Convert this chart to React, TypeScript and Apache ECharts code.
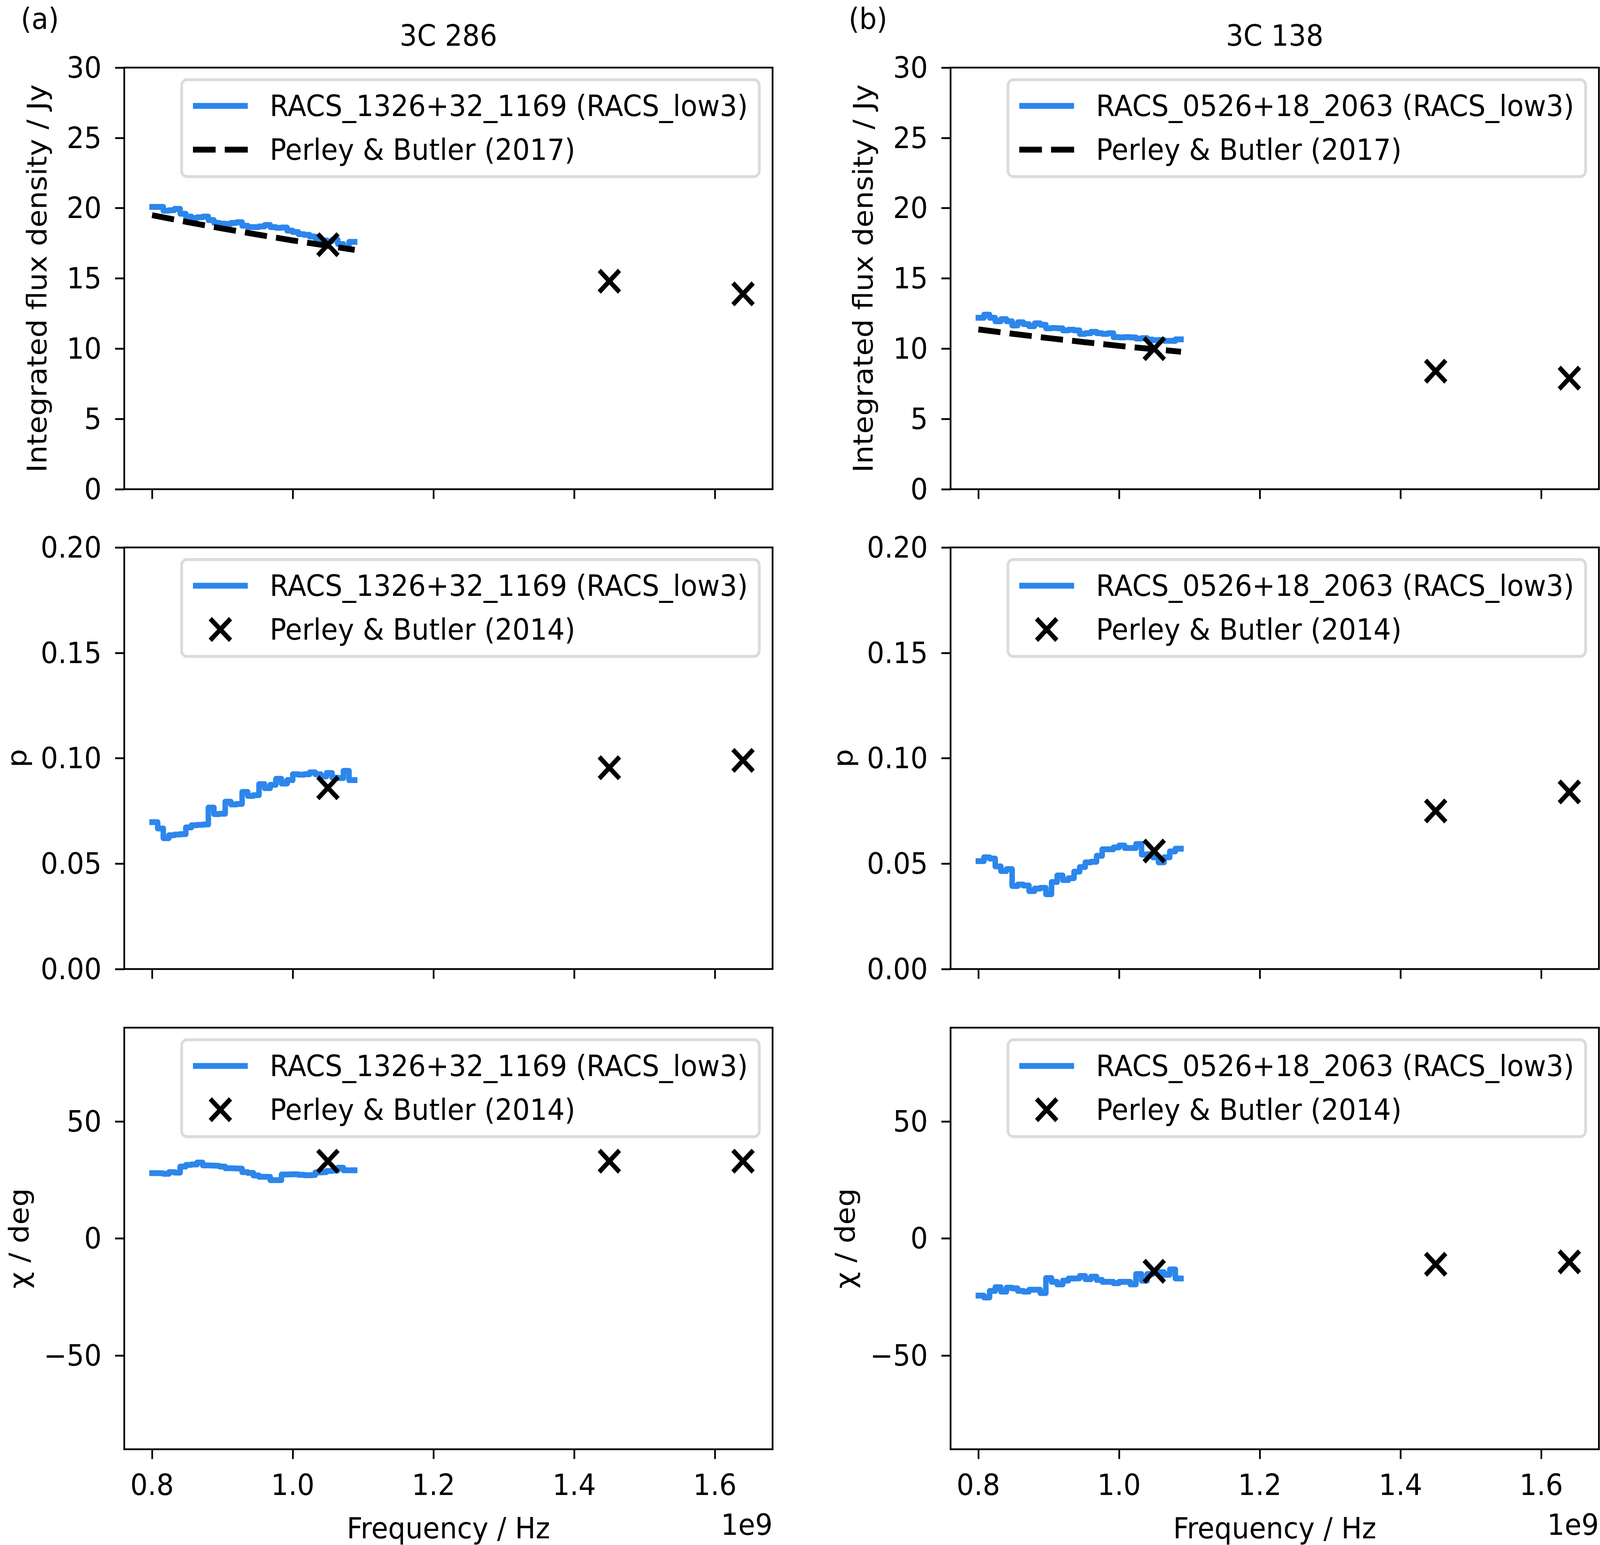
import React, { useEffect, useRef } from "react";
import * as echarts from "echarts";

// ---------------- data ----------------
// channel edges (GHz, i.e. x 1e9 Hz); values hold from edge i to edge i+1
const FREQ_GHZ = [
  0.8, 0.808, 0.816, 0.824, 0.832, 0.84, 0.848, 0.856, 0.864, 0.872, 0.88, 0.888,
  0.896, 0.904, 0.912, 0.92, 0.928, 0.936, 0.944, 0.952, 0.96, 0.968, 0.976, 0.984,
  0.992, 1.0, 1.008, 1.016, 1.024, 1.032, 1.04, 1.048, 1.056, 1.064, 1.072, 1.08, 1.088,
];

const I_3C286 = [
  20.09, 20.09, 19.82, 19.85, 19.95, 19.6, 19.4, 19.3, 19.35, 19.4, 19.15, 18.95,
  18.9, 18.88, 18.95, 19.0, 18.75, 18.65, 18.65, 18.7, 18.8, 18.65, 18.6, 18.62,
  18.4, 18.3, 18.15, 18.1, 17.98, 17.85, 17.7, 17.65, 17.75, 17.45, 17.2, 17.6,
];
const I_3C138 = [
  12.2, 12.42, 12.2, 11.95, 12.1, 11.95, 11.65, 11.88, 11.75, 11.6, 11.8, 11.7,
  11.45, 11.47, 11.45, 11.3, 11.35, 11.3, 11.05, 11.1, 11.2, 11.1, 11.05, 11.1,
  10.82, 10.8, 10.82, 10.8, 10.72, 10.75, 10.65, 10.6, 10.62, 10.56, 10.55, 10.66,
];
const P_3C286 = [
  0.0697, 0.0667, 0.0621, 0.0635, 0.0638, 0.064, 0.0672, 0.0682, 0.0684, 0.0686, 0.0766, 0.0735,
  0.0737, 0.0794, 0.0781, 0.0783, 0.084, 0.0821, 0.0825, 0.0877, 0.0858, 0.0874, 0.0902, 0.088,
  0.0896, 0.0924, 0.0922, 0.0924, 0.0933, 0.0924, 0.0914, 0.093, 0.0908, 0.0906, 0.094, 0.0896,
];
const P_3C138 = [
  0.0512, 0.053, 0.0524, 0.0487, 0.0465, 0.0474, 0.0394, 0.0401, 0.0396, 0.037, 0.0382, 0.0385,
  0.0355, 0.0413, 0.0444, 0.0422, 0.0431, 0.0462, 0.0484, 0.0506, 0.0509, 0.0537, 0.0568, 0.0568,
  0.0577, 0.0586, 0.0574, 0.0574, 0.0593, 0.0543, 0.0545, 0.053, 0.0506, 0.053, 0.0558, 0.0571,
];
const CHI_3C286 = [
  27.9, 27.8, 27.6, 28.3, 28.1, 30.7, 31.4, 31.6, 32.4, 31.2, 31.1, 31.0,
  30.7, 30.0, 29.9, 29.8, 28.3, 28.0, 26.9, 26.3, 26.3, 24.9, 24.9, 27.3,
  27.4, 27.4, 27.2, 27.0, 27.1, 28.2, 28.3, 28.8, 29.0, 30.2, 29.1, 29.1,
];
const CHI_3C138 = [
  -24.4, -25.2, -22.4, -20.8, -22.7, -21.0, -21.3, -22.4, -22.7, -21.9, -21.9, -23.3,
  -16.9, -18.5, -19.6, -18.0, -17.1, -17.0, -16.0, -17.4, -16.3, -17.7, -18.5, -18.5,
  -19.1, -18.5, -18.5, -19.6, -15.2, -18.0, -15.2, -14.4, -14.4, -15.5, -13.2, -17.1,
];

// Perley & Butler (2017) model curve
const PB17_FREQ = [0.8, 0.85, 0.9, 0.95, 1.0, 1.05, 1.088];
const PB17_3C286 = [19.5, 19.01, 18.55, 18.12, 17.7, 17.32, 17.03];
const PB17_3C138 = [11.37, 11.05, 10.75, 10.47, 10.2, 9.96, 9.78];

// Perley & Butler (2014) points
const PB_FREQ = [1.05, 1.45, 1.64];
const PB_I_3C286 = [17.4, 14.8, 13.9];
const PB_I_3C138 = [10.0, 8.4, 7.9];
const PB_P_3C286 = [0.086, 0.0955, 0.099];
const PB_P_3C138 = [0.056, 0.075, 0.084];
const PB_CHI_3C286 = [33, 33, 33];
const PB_CHI_3C138 = [-14, -11, -10];

const X_TICKS = [0.8, 1.0, 1.2, 1.4, 1.6];
const Y_TICKS_I = [0, 5, 10, 15, 20, 25, 30];
const Y_TICKS_P = [0, 0.05, 0.1, 0.15, 0.2];
const Y_TICKS_CHI = [-50, 0, 50];

const NAME_286 = "RACS_1326+32_1169 (RACS_low3)";
const NAME_138 = "RACS_0526+18_2063 (RACS_low3)";
const NAME_PB17 = "Perley & Butler (2017)";
const NAME_PB14 = "Perley & Butler (2014)";

// ---------------- style ----------------
const W = 4378;
const H = 3954;
const FONT = '"DejaVu Sans", "Liberation Sans", sans-serif';
const FS = 75;
const BLUE = "#2c86eb";
const LW = 4.7;
const X_MIN = 0.7605;
const X_MAX = 1.682;
const COL_LEFT = [340, 2601];
const ROW_TOP = [173, 1401, 2630];
const GW = 1774;
const GH = 1079;
const COL_SHIFT = 2261;

const X_PATH =
  "path://M0,13.5L13.5,0L50,36.5L86.5,0L100,13.5L63.5,50L100,86.5L86.5,100L50,63.5L13.5,100L0,86.5L36.5,50Z";
const LINE_ICON = "path://M0,0L150,0L150,15L0,15Z";
const DASH_ICON = "path://M0,0L62,0L62,15L0,15Z M87,0L150,0L150,15L87,15Z";

function stepData(vals: number[]) {
  const out: number[][] = vals.map((v, i) => [FREQ_GHZ[i], v]);
  out.push([FREQ_GHZ[FREQ_GHZ.length - 1], vals[vals.length - 1]]);
  return out;
}
function pairs(xs: number[], ys: number[]) {
  return xs.map((x, i) => [x, ys[i]]);
}
const fmtMinus = (v: number) => (v < 0 ? "\u2212" + Math.abs(v) : String(v));

function buildOption() {
  const grid: any[] = [];
  const xAxis: any[] = [];
  const yAxis: any[] = [];
  const series: any[] = [];
  const legend: any[] = [];

  const rows = [
    { ticks: Y_TICKS_I, min: 0, max: 30, fmt: (v: number) => String(v) },
    { ticks: Y_TICKS_P, min: 0, max: 0.2, fmt: (v: number) => v.toFixed(2) },
    { ticks: Y_TICKS_CHI, min: -90, max: 90, fmt: fmtMinus },
  ];
  const racs = [
    [I_3C286, I_3C138],
    [P_3C286, P_3C138],
    [CHI_3C286, CHI_3C138],
  ];
  const pb = [
    [PB_I_3C286, PB_I_3C138],
    [PB_P_3C286, PB_P_3C138],
    [PB_CHI_3C286, PB_CHI_3C138],
  ];
  const names = [NAME_286, NAME_138];

  for (let r = 0; r < 3; r++) {
    for (let c = 0; c < 2; c++) {
      const p = r * 2 + c;
      grid.push({
        left: COL_LEFT[c],
        top: ROW_TOP[r],
        width: GW,
        height: GH,
        show: true,
        borderColor: "#000",
        borderWidth: LW,
        backgroundColor: "transparent",
        containLabel: false,
      });
      xAxis.push({
        gridIndex: p,
        type: "value",
        min: X_MIN,
        max: X_MAX,
        axisLine: { show: false, onZero: false },
        axisTick: {
          show: true,
          inside: false,
          length: 25,
          lineStyle: { color: "#000", width: LW },
          customValues: X_TICKS,
        },
        axisLabel: {
          show: r === 2,
          customValues: X_TICKS,
          formatter: (v: number) => v.toFixed(1),
          fontSize: FS,
          fontFamily: FONT,
          color: "#000",
          margin: 54,
        },
        splitLine: { show: false },
      });
      yAxis.push({
        gridIndex: p,
        type: "value",
        min: rows[r].min,
        max: rows[r].max,
        axisLine: { show: false, onZero: false },
        axisTick: {
          show: true,
          inside: false,
          length: 25,
          lineStyle: { color: "#000", width: LW },
          customValues: rows[r].ticks,
        },
        axisLabel: {
          show: true,
          customValues: rows[r].ticks,
          formatter: rows[r].fmt,
          fontSize: FS,
          fontFamily: FONT,
          color: "#000",
          margin: 62,
        },
        splitLine: { show: false },
      });

      series.push({
        type: "line",
        name: names[c],
        xAxisIndex: p,
        yAxisIndex: p,
        data: stepData(racs[r][c]),
        step: "end",
        symbol: "none",
        silent: true,
        lineStyle: { color: BLUE, width: 15, join: "round", cap: "square", opacity: 1 },
        itemStyle: { color: BLUE, opacity: 1 },
        z: 2,
      });
      if (r === 0) {
        series.push({
          type: "line",
          name: NAME_PB17,
          xAxisIndex: p,
          yAxisIndex: p,
          data: pairs(PB17_FREQ, c === 0 ? PB17_3C286 : PB17_3C138),
          symbol: "none",
          silent: true,
          lineStyle: { color: "#000", width: 15, type: [61, 25], cap: "butt", opacity: 1 },
          itemStyle: { color: "#000", opacity: 1 },
          z: 3,
        });
      }
      series.push({
        type: "scatter",
        name: NAME_PB14,
        xAxisIndex: p,
        yAxisIndex: p,
        data: pairs(PB_FREQ, pb[r][c]),
        symbol: X_PATH,
        symbolSize: 64,
        silent: true,
        itemStyle: { color: "#000", borderWidth: 0, opacity: 1 },
        z: 4,
      });

      legend.push({
        show: true,
        orient: "vertical",
        align: "left",
        left: 497 + c * COL_SHIFT,
        top: ROW_TOP[r] + 31,
        padding: [22, 31, 24, 31],
        itemWidth: 150,
        itemHeight: 64,
        itemGap: 22,
        selectedMode: false,
        backgroundColor: "#ffffff",
        borderColor: "#d8dcdc",
        borderWidth: 7.5,
        borderRadius: 15,
        itemStyle: { borderWidth: 0, opacity: 1 },
        textStyle: {
          fontSize: FS,
          fontFamily: FONT,
          color: "#000",
          lineHeight: 90,
          padding: [0, 0, 0, 55],
        },
        data: [
          { name: names[c], icon: LINE_ICON },
          r === 0 ? { name: NAME_PB17, icon: DASH_ICON } : { name: NAME_PB14, icon: X_PATH },
        ],
      });
    }
  }

  const txt = (text: string, x: number, y: number, align: string, rotation = 0, lh = FS) => ({
    type: "text",
    x,
    y,
    rotation,
    silent: true,
    style: {
      text,
      fill: "#000",
      fontSize: FS,
      fontFamily: FONT,
      font: `${FS}px ${FONT}`,
      lineHeight: lh,
      align,
      verticalAlign: "middle",
    },
  });

  const rowMid = ROW_TOP.map((t) => t + GH / 2);
  const yLabelX = [101, 47, 52];
  const yLabels = ["Integrated flux density / Jy", "p", "\u03c7 / deg"];
  const graphic: any[] = [
    txt("(a)", 57, 48, "left"),
    txt("(b)", 57 + COL_SHIFT + 4, 48, "left"),
    txt("3C 286", COL_LEFT[0] + GW / 2, 91, "center"),
    txt("3C 138", COL_LEFT[1] + GW / 2, 91, "center"),
    txt("Frequency / Hz", COL_LEFT[0] + GW / 2, 3911, "center"),
    txt("Frequency / Hz", COL_LEFT[1] + GW / 2, 3911, "center"),
    txt("1e9", COL_LEFT[0] + GW, 3902, "right"),
    txt("1e9", COL_LEFT[1] + GW, 3902, "right"),
  ];
  for (let r = 0; r < 3; r++) {
    for (let c = 0; c < 2; c++) {
      graphic.push(
        txt(yLabels[r], yLabelX[r] + c * COL_SHIFT, rowMid[r], "center", Math.PI / 2, 64)
      );
    }
  }

  return {
    animation: false,
    backgroundColor: "#ffffff",
    textStyle: { fontFamily: FONT },
    grid,
    xAxis,
    yAxis,
    series,
    legend,
    graphic,
  };
}

export default function App() {
  const outerRef = useRef<HTMLDivElement>(null);
  const ref = useRef<HTMLDivElement>(null);
  useEffect(() => {
    document.body.style.margin = "0";
    document.body.style.overflow = "hidden";
    const outer = outerRef.current;
    const el = ref.current;
    if (!outer || !el) return;
    // fit the fixed-size figure into the actual viewport
    const vw = window.innerWidth || W;
    const vh = window.innerHeight || H;
    outer.style.width = vw + "px";
    outer.style.height = vh + "px";
    el.style.transform = `scale(${vw / W}, ${vh / H})`;
    const chart = echarts.init(el, undefined, { renderer: "svg", width: W, height: H });
    chart.setOption(buildOption() as any);
    return () => chart.dispose();
  }, []);
  return (
    <div
      ref={outerRef}
      style={{
        position: "fixed",
        left: 0,
        top: 0,
        width: W,
        height: H,
        overflow: "hidden",
        background: "#fff",
      }}
    >
      <div
        ref={ref}
        style={{
          position: "absolute",
          left: 0,
          top: 0,
          width: W,
          height: H,
          transformOrigin: "0 0",
          background: "#fff",
        }}
      />
    </div>
  );
}
